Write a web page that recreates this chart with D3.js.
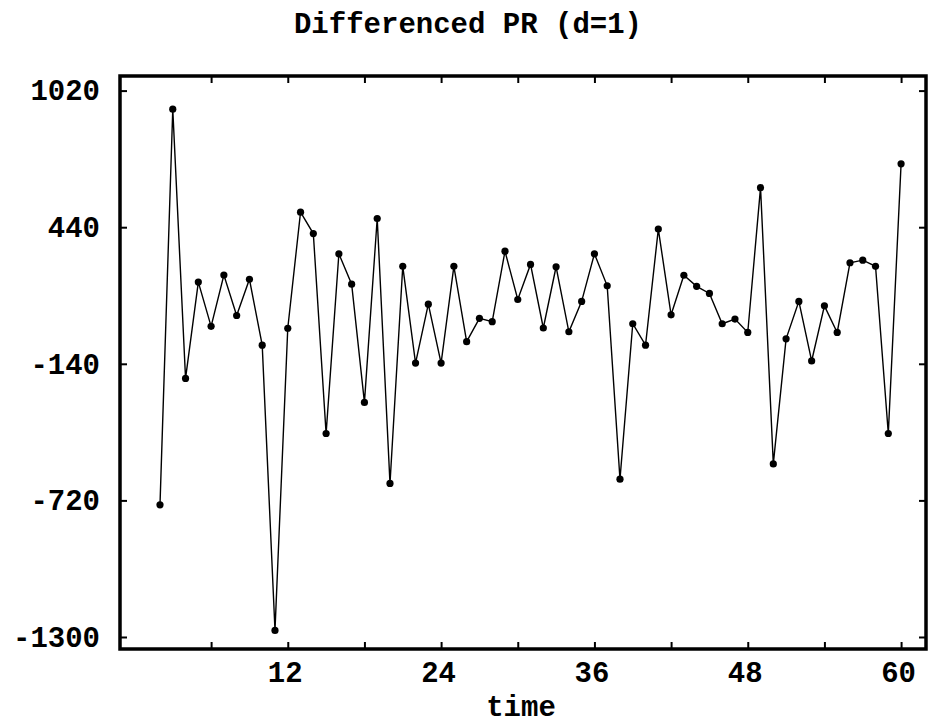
<!DOCTYPE html>
<html>
<head>
<meta charset="utf-8">
<script src="https://cdn.jsdelivr.net/npm/d3@7"></script>
<style>
  body { margin: 0; background: #fff; }
  text { font-family: "Liberation Mono", "DejaVu Sans Mono", monospace; font-weight: bold; fill: #000; }
</style>
</head>
<body>
<svg id="chart" width="929" height="726"></svg>
<script>
'use strict';

// time index of the differenced series (first obs is lost by differencing)
const times = [2, 3, 4, 5, 6, 7, 8, 9, 10, 11, 12, 13, 14, 15, 16, 17, 18, 19, 20, 21,
  22, 23, 24, 25, 26, 27, 28, 29, 30, 31, 32, 33, 34, 35, 36, 37, 38, 39, 40, 41,
  42, 43, 44, 45, 46, 47, 48, 49, 50, 51, 52, 53, 54, 55, 56, 57, 58, 59, 60];

// differenced PR values
const diffPR = [-739, 941, -202, 207, 19, 237, 65, 219, -61, -1272, 11, 504, 413, -436, 327, 198, -304, 477, -648, 274,
  -137, 113, -137, 274, -46, 53, 39, 338, 133, 282, 12, 272, -4, 125, 327, 191, -630, 30, -61, 432,
  68, 236, 189, 159, 30, 50, -7, 608, -565, -34, 125, -128, 106, -7, 289, 300, 274, -436, 709];

const xTicks = [6, 12, 18, 24, 30, 36, 42, 48, 54, 60];
const yTicks = [1020, 440, -140, -720, -1300];

const data = times.map((t, i) => ({ t: t, v: diffPR[i] }));

const svg = d3.select('#chart');
const plotL = 120, plotR = 926, plotT = 76, plotB = 649;

// scales
const xScale = d3.scaleLinear()
  .domain([-1.13, 61.95])
  .range([plotL, plotR]);
const yScale = d3.scaleLinear()
  .domain([-1351, 1082])
  .range([plotB, plotT]);

// title
svg.append('text')
  .attr('x', 468)
  .attr('y', 33)
  .attr('text-anchor', 'middle')
  .attr('font-size', 29)
  .text('Differenced PR (d=1)');

// bottom axis, ticks point inward, labels every 12
const xAxis = svg.append('g')
  .attr('transform', `translate(0,${plotB})`)
  .call(d3.axisBottom(xScale)
    .tickValues(xTicks)
    .tickSizeInner(-7)
    .tickSizeOuter(0)
    .tickFormat(d => d % 12 === 0 ? d : ''));
xAxis.select('.domain').remove();
xAxis.selectAll('line').attr('stroke', '#000').attr('stroke-width', 2);
xAxis.selectAll('text')
  .attr('y', 33)
  .attr('dy', null)
  .attr('dx', -3)
  .attr('font-size', 29)
  .attr('font-family', null);

// top axis mirrors the bottom ticks
const xTop = svg.append('g')
  .attr('transform', `translate(0,${plotT})`)
  .call(d3.axisTop(xScale)
    .tickValues(xTicks)
    .tickSizeInner(-7)
    .tickSizeOuter(0)
    .tickFormat(''));
xTop.select('.domain').remove();
xTop.selectAll('line').attr('stroke', '#000').attr('stroke-width', 2);

// left axis, plain integers (no thousands comma)
const yAxis = svg.append('g')
  .attr('transform', `translate(${plotL},0)`)
  .call(d3.axisLeft(yScale)
    .tickValues(yTicks)
    .tickSizeInner(-7)
    .tickSizeOuter(0)
    .tickFormat(d => String(d)));
yAxis.select('.domain').remove();
yAxis.selectAll('line').attr('stroke', '#000').attr('stroke-width', 2);
yAxis.selectAll('text')
  .attr('x', -20)
  .attr('font-size', 29)
  .attr('font-family', null);

// right axis mirrors the left ticks
const yRight = svg.append('g')
  .attr('transform', `translate(${plotR},0)`)
  .call(d3.axisRight(yScale)
    .tickValues(yTicks)
    .tickSizeInner(-7)
    .tickSizeOuter(0)
    .tickFormat(''));
yRight.select('.domain').remove();
yRight.selectAll('line').attr('stroke', '#000').attr('stroke-width', 2);

// x label
svg.append('text')
  .attr('x', 521)
  .attr('y', 716)
  .attr('text-anchor', 'middle')
  .attr('font-size', 29)
  .text('time');

// series line
const line = d3.line()
  .x(d => xScale(d.t))
  .y(d => yScale(d.v));

svg.append('path')
  .datum(data)
  .attr('d', line)
  .attr('fill', 'none')
  .attr('stroke', '#000')
  .attr('stroke-width', 1.4);

// point markers
svg.selectAll('circle.pt')
  .data(data)
  .enter().append('circle')
  .attr('class', 'pt')
  .attr('cx', d => xScale(d.t))
  .attr('cy', d => yScale(d.v))
  .attr('r', 3.6)
  .attr('fill', '#000');

// plot frame
svg.append('rect')
  .attr('x', plotL)
  .attr('y', plotT)
  .attr('width', plotR - plotL)
  .attr('height', plotB - plotT)
  .attr('fill', 'none')
  .attr('stroke', '#000')
  .attr('stroke-width', 3.5);
</script>
</body>
</html>
